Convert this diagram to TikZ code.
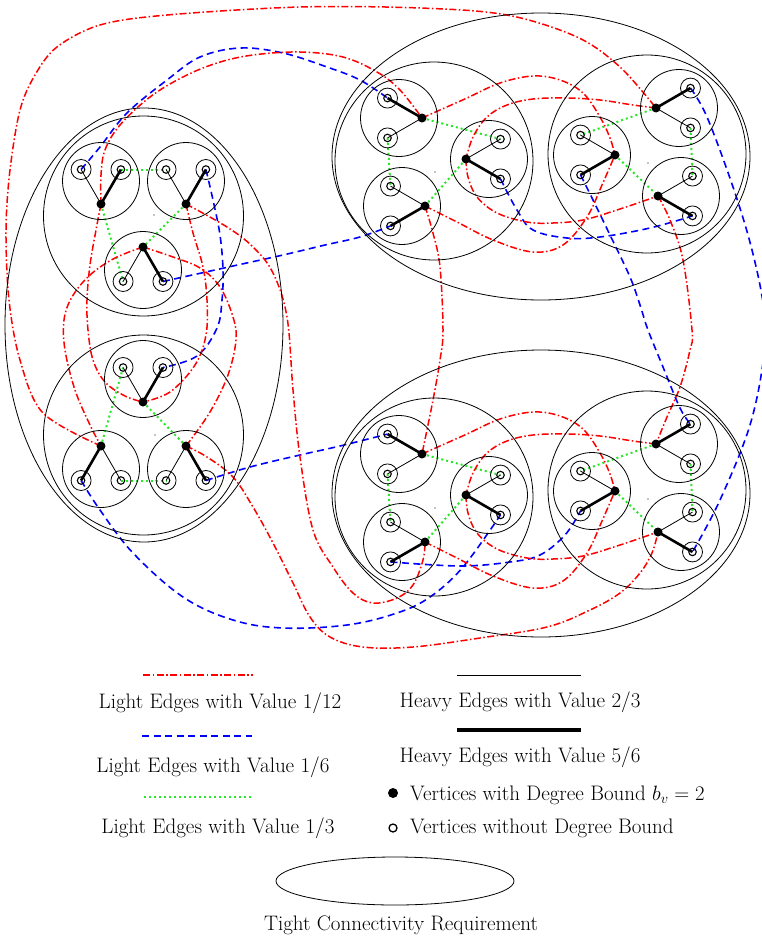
\documentclass[tikz,border=0pt]{standalone}
\usetikzlibrary{shapes.geometric,backgrounds}
\definecolor{eRed}{rgb}{1,0,0}
\definecolor{eBlue}{rgb}{0,0,1}
\definecolor{eGreen}{RGB}{40,230,40}
\tikzset{
 ringc/.style={line width=0.8pt},
 gadget/.style={line width=0.8pt},
 bvert/.style={circle,fill=black,inner sep=0pt,minimum size=9pt},
 wvert/.style={circle,draw=black,line width=1.1pt,inner sep=0pt,minimum size=7.5pt},
 hv/.style={line width=2.6pt},
 lt/.style={line width=0.8pt},
 redE/.style={eRed,line width=1.5pt,dash pattern=on 7pt off 2.5pt on 1.5pt off 2.5pt},
 blueE/.style={eBlue,line width=1.6pt,dash pattern=on 7pt off 4.5pt},
 greenE/.style={eGreen,line width=2pt,dash pattern=on 2pt off 3pt},
 lbl/.style={font=\fontsize{21}{25}\selectfont,inner sep=0pt},
}
\newcommand{\gcomp}[6]{%
 \begin{scope}[shift={(#2,#3)}]
  \draw[ringc] (0,0) circle[radius=38.5pt];
  \node[bvert] (#1b) at (#4:23) {};
  \node[wvert] (#1t) at (#5:23) {};
  \node[wvert] (#1n) at (#6:23) {};
  \draw[ringc] (#1t.center) circle[radius=10pt];
  \draw[ringc] (#1n.center) circle[radius=10pt];
  \draw[hv] (#1b.center) -- (#1t.center);
  \draw[lt] (#1b.center) -- (#1n.center);
 \end{scope}}
\begin{document}
\begin{tikzpicture}[x=1pt,y=-1pt]
\useasboundingbox (0,0) rectangle (761,937);
% clusters
\draw[gadget] (144,325) ellipse[x radius=139pt,y radius=217pt];
\draw[gadget] (541,156.5) ellipse[x radius=209pt,y radius=143.5pt];
\draw[gadget] (541,493.5) ellipse[x radius=209pt,y radius=143.5pt];
% gadgets
\draw[gadget] (143.5,216) circle[radius=100pt];
\draw[gadget] (143.5,435) circle[radius=100pt];
\draw[gadget] (434,161) circle[radius=99pt];
\draw[gadget] (647,154) circle[radius=99pt];
\draw[gadget] (434,497) circle[radius=99pt];
\draw[gadget] (647,490) circle[radius=99pt];
\foreach \p in {(154,215),(155,435),(435,172),(648,163),(435,508),(648,499)}
  \fill \p circle[radius=0.6pt];
% components
\gcomp{TLa}{101}{181}{90}{330}{210}
\gcomp{TLb}{186}{181}{90}{330}{210}
\gcomp{TLc}{143}{270}{270}{30}{150}
\gcomp{BLa}{143}{379}{90}{330}{210}
\gcomp{BLb}{101}{469}{270}{150}{30}
\gcomp{BLc}{186}{469}{270}{30}{150}
\gcomp{Ta}{399}{118}{0}{240}{120}
\gcomp{Tb}{489}{159}{180}{60}{300}
\gcomp{Tc}{402}{206}{0}{120}{240}
\gcomp{Td}{679}{108}{180}{300}{60}
\gcomp{Te}{592}{155}{0}{120}{240}
\gcomp{Tf}{681}{196}{180}{60}{300}
\gcomp{Ba}{399}{454}{0}{240}{120}
\gcomp{Bb}{489}{495}{180}{60}{300}
\gcomp{Bc}{402}{542}{0}{120}{240}
\gcomp{Bd}{679}{444}{180}{300}{60}
\gcomp{Be}{592}{491}{0}{120}{240}
\gcomp{Bf}{681}{532}{180}{60}{300}
\begin{pgfonlayer}{background}
% green light edges 1/3
\draw[greenE] (TLat.center) -- (TLbn.center);
\draw[greenE] (TLab.center) -- (TLcn.center);
\draw[greenE] (TLbb.center) -- (TLcb.center);
\draw[greenE] (BLan.center) -- (BLbb.center);
\draw[greenE] (BLab.center) -- (BLcb.center);
\draw[greenE] (BLbn.center) -- (BLcn.center);
\draw[greenE] (Tab.center) -- (Tbn.center);
\draw[greenE] (Tan.center) -- (Tcn.center);
\draw[greenE] (Tcb.center) -- (Tbb.center);
\draw[greenE] (Tdb.center) -- (Ten.center);
\draw[greenE] (Tdn.center) -- (Tfn.center);
\draw[greenE] (Teb.center) -- (Tfb.center);
\draw[greenE] (Bab.center) -- (Bbn.center);
\draw[greenE] (Ban.center) -- (Bcn.center);
\draw[greenE] (Bcb.center) -- (Bbb.center);
\draw[greenE] (Bdb.center) -- (Ben.center);
\draw[greenE] (Bdn.center) -- (Bfn.center);
\draw[greenE] (Beb.center) -- (Bfb.center);
% blue light edges 1/6
\draw[blueE] plot[smooth,tension=0.6] coordinates {(TLan.center) (100,147) (127,113) (167,80) (200,57) (240,48) (283,53) (327,67) (360,80) (Tat.center)};
\draw[blueE] plot[smooth,tension=0.6] coordinates {(TLbt.center) (213,200) (220,235) (223,270) (222,300) (217,328) (197,356) (BLat.center)};
\draw[blueE] plot[smooth,tension=0.6] coordinates {(TLct.center) (233,266) (283,255) (325,245) (360,237) (Tct.center)};
\draw[blueE] plot[smooth,tension=0.6] coordinates {(BLbt.center) (100,510) (133,553) (183,597) (233,620) (283,628) (347,625) (397,613) (430,597) (463,567) (Bbt.center)};
\draw[blueE] plot[smooth,tension=0.6] coordinates {(BLct.center) (250,467) (300,455) (340,446) (Bat.center)};
\draw[blueE] plot[smooth,tension=0.6] coordinates {(Tbt.center) (517,210) (533,230) (567,238) (600,237) (650,228) (Tft.center)};
\draw[blueE] plot[smooth,tension=0.6] coordinates {(Tet.center) (593,200) (610,235) (630,277) (640,305) (648,330) (663,367) (680,408) (Bdt.center)};
\draw[blueE] plot[smooth,tension=0.6] coordinates {(Tdt.center) (707,117) (733,187) (752,250) (764,310) (764,355) (750,425) (720,500) (Bft.center)};
\draw[blueE] plot[smooth,tension=0.6] coordinates {(Bct.center) (460,566) (510,562) (540,555) (565,535) (Bet.center)};
% red light edges 1/12
\draw[redE] plot[smooth,tension=0.55] coordinates {(BLbb.center) (43,413) (20,360) (9,300) (6,230) (10,170) (20,110) (35,75) (57,47) (100,25) (167,15) (300,7) (420,8) (507,15) (577,37) (620,67) (Tdb.center)};
\draw[redE] plot[smooth,tension=0.6] coordinates {(TLab.center) (101,175) (105,150) (120,125) (150,97) (183,77) (217,63) (253,55) (300,52) (343,57) (377,72) (400,90) (Tab.center)};
\draw[redE] plot[smooth,tension=0.6] coordinates {(TLcb.center) (115,258) (90,275) (72,297) (64,320) (65,350) (75,390) (90,425) (BLbb.center)};
\draw[redE] plot[smooth,tension=0.6] coordinates {(TLab.center) (96,230) (90,265) (87,300) (88,330) (93,360) (105,382) (125,396) (BLab.center)};
\draw[redE] plot[smooth,tension=0.6] coordinates {(TLbb.center) (193,233) (203,267) (207,300) (206,335) (195,365) (170,392) (BLab.center)};
\draw[redE] plot[smooth,tension=0.6] coordinates {(TLcb.center) (173,257) (200,268) (220,287) (233,317) (236,340) (228,375) (210,412) (BLcb.center)};
\draw[redE] plot[smooth,tension=0.6] coordinates {(TLbb.center) (227,227) (253,247) (273,273) (287,317) (293,390) (300,457) (313,530) (333,567) (353,593) (373,603) (397,598) (413,585) (423,560) (Bcb.center)};
\draw[redE] plot[smooth,tension=0.6] coordinates {(BLcb.center) (207,457) (233,477) (253,507) (273,543) (293,583) (310,617) (330,637) (363,647) (413,647) (480,638) (547,627) (590,610) (620,593) (640,573) (652,553) (Bfb.center)};
\draw[redE] plot[smooth,tension=0.6] coordinates {(Tab.center) (440,110) (467,98) (500,83) (533,76) (560,80) (583,93) (600,117) (610,138) (Teb.center)};
\draw[redE] plot[smooth,tension=0.6] coordinates {(Tdb.center) (633,105) (600,100) (567,98) (533,99) (507,105) (487,117) (473,137) (Tbb.center)};
\draw[redE] plot[smooth,tension=0.6] coordinates {(Tbb.center) (468,177) (477,197) (497,213) (527,222) (553,223) (583,220) (617,210) (Tfb.center)};
\draw[redE] plot[smooth,tension=0.6] coordinates {(Tcb.center) (457,222) (493,240) (533,252) (563,245) (587,217) (602,185) (Teb.center)};
\draw[redE] plot[smooth,tension=0.6] coordinates {(Tcb.center) (433,233) (440,267) (443,330) (440,360) (433,400) (Bab.center)};
\draw[redE] plot[smooth,tension=0.6] coordinates {(Tfb.center) (670,220) (683,260) (692,330) (690,350) (680,387) (667,417) (Bdb.center)};
\draw[redE] plot[smooth,tension=0.6] coordinates {(Bab.center) (440,446) (467,434) (500,419) (533,412) (560,416) (583,429) (600,453) (610,474) (Beb.center)};
\draw[redE] plot[smooth,tension=0.6] coordinates {(Bdb.center) (633,441) (600,436) (567,434) (533,435) (507,441) (487,453) (473,473) (Bbb.center)};
\draw[redE] plot[smooth,tension=0.6] coordinates {(Bbb.center) (468,513) (477,533) (497,549) (527,558) (553,559) (583,556) (617,546) (Bfb.center)};
\draw[redE] plot[smooth,tension=0.6] coordinates {(Bcb.center) (457,558) (493,576) (533,588) (563,581) (587,553) (602,521) (Beb.center)};
\end{pgfonlayer}
% legend
\coordinate (lr1) at (143,675); \coordinate (lr2) at (253,675);
\coordinate (lb1) at (142,736); \coordinate (lb2) at (252,736);
\coordinate (lg1) at (144,797); \coordinate (lg2) at (252,797);
\coordinate (lh1) at (457,675); \coordinate (lh2) at (581,675);
\coordinate (lk1) at (457,730); \coordinate (lk2) at (581,730);
\draw[redE] (lr1) -- (lr2);
\draw[blueE] (lb1) -- (lb2);
\draw[greenE] (lg1) -- (lg2);
\draw[line width=1pt] (lh1) -- (lh2);
\draw[line width=3.4pt] (lk1) -- (lk2);
\node[lbl] (t1) at (220,703) {Light Edges with Value 1/12};
\node[lbl] (t2) at (213,767) {Light Edges with Value 1/6};
\node[lbl] (t3) at (218,828) {Light Edges with Value 1/3};
\node[lbl] (t4) at (520,702) {Heavy Edges with Value 2/3};
\node[lbl] (t5) at (520,757) {Heavy Edges with Value 5/6};
\node[circle,fill=black,inner sep=0pt,minimum size=10pt] (lvb) at (393,793) {};
\node[lbl,anchor=west] (t6) at (410,795) {Vertices with Degree Bound $b_v = 2$};
\node[circle,draw=black,line width=1.3pt,inner sep=0pt,minimum size=8pt] (lvw) at (393,828) {};
\node[lbl,anchor=west] (t7) at (410,828) {Vertices without Degree Bound};
\node[ellipse,draw=black,line width=0.8pt,minimum width=238pt,minimum height=48pt,inner sep=0pt] (tce) at (395,881) {};
\node[lbl] (t8) at (401,925) {Tight Connectivity Requirement};
\end{tikzpicture}
\end{document}
